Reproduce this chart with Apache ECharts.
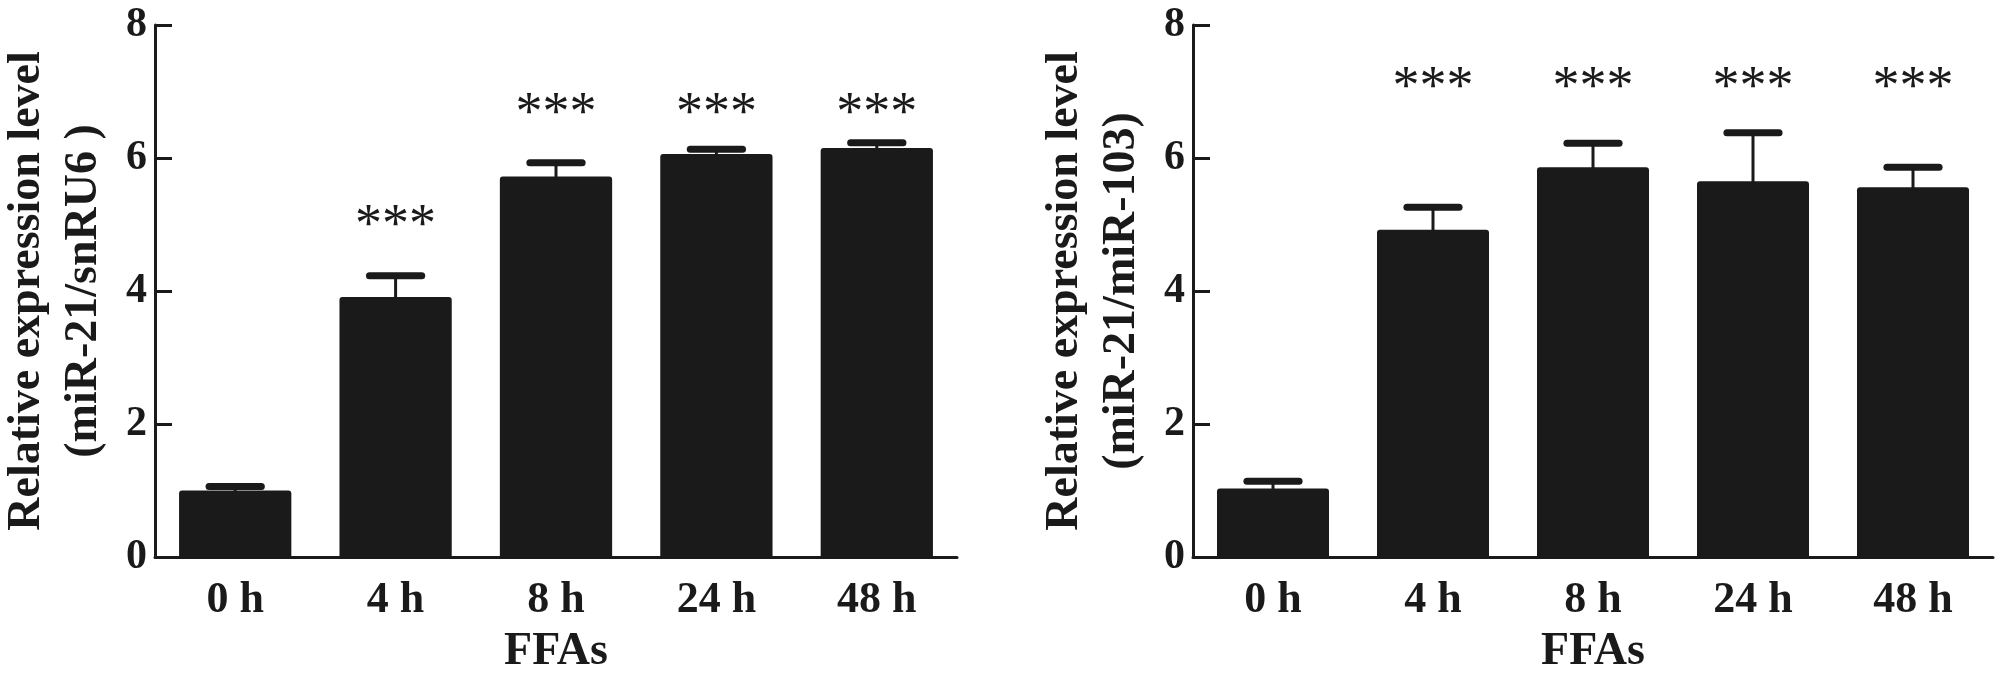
<!DOCTYPE html>
<html>
<head>
<meta charset="utf-8">
<script src="https://cdn.jsdelivr.net/npm/echarts@6/dist/echarts.min.js"></script>
<style>
  html, body { margin: 0; padding: 0; background: #fff; }
  #chart { width: 2008px; height: 678px; }
</style>
</head>
<body>
<div id="chart"></div>
<script>
// categories and values
const hours = ['0 h', '4 h', '8 h', '24 h', '48 h'];
const yTicks = [0, 2, 4, 6, 8];

// left panel: miR-21/snRU6
const snMean = [1.00, 3.91, 5.72, 6.06, 6.15];
const snUpper = [1.06, 4.23, 5.93, 6.13, 6.23];
const snStarY = [null, 5.07, 6.75, 6.75, 6.75];

// right panel: miR-21/miR-103
const mirMean = [1.03, 4.92, 5.86, 5.65, 5.56];
const mirUpper = [1.14, 5.26, 6.22, 6.38, 5.86];
const mirStarY = [null, 7.14, 7.14, 7.14, 7.14];

const stars = ['', '***', '***', '***', '***'];

const ink = '#1a1a1a';
const serif = '"Liberation Serif", "Times New Roman", serif';

// upper error bar: stem from bar top + rounded cap
function errRender(params, api) {
  const i = api.value(0);
  const base = api.coord([i, api.value(1)]);
  const top = api.coord([i, api.value(2)]);
  const hw = api.size([1, 0])[0] * 0.163;
  return {
    type: 'group',
    children: [
      { type: 'line', shape: { x1: top[0], y1: base[1] + 2, x2: top[0], y2: top[1] },
        style: { stroke: ink, lineWidth: 3 } },
      { type: 'line', shape: { x1: top[0] - hw, y1: top[1], x2: top[0] + hw, y2: top[1] },
        style: { stroke: ink, lineWidth: 7, lineCap: 'round' } }
    ]
  };
}

// significance marks, looked up by category index
function starRender(params, api) {
  const i = api.value(0);
  const p = api.coord([i, api.value(1)]);
  return {
    type: 'text',
    style: {
      x: p[0], y: p[1] + 7,
      text: stars[i],
      fill: ink,
      font: 'normal 54px ' + serif,
      align: 'center',
      verticalAlign: 'middle'
    }
  };
}

function xAxisFor(idx) {
  return {
    type: 'category', gridIndex: idx, data: hours,
    name: 'FFAs', nameLocation: 'middle', nameGap: 72,
    nameTextStyle: { fontFamily: serif, fontWeight: 'bold', fontSize: 46, color: ink },
    axisLine: { lineStyle: { color: ink, width: 3 } },
    axisTick: { show: false },
    axisLabel: { fontFamily: serif, fontWeight: 'bold', fontSize: 44, color: ink, margin: 22 },
    splitLine: { show: false }
  };
}

function yAxisFor(idx, title) {
  return {
    type: 'value', gridIndex: idx, min: 0, max: 8, interval: 2,
    name: title, nameLocation: 'middle', nameRotate: 90, nameGap: 42,
    nameTextStyle: { fontFamily: serif, fontWeight: 'bold', fontSize: 46, lineHeight: 57, color: ink },
    axisLine: { show: true, lineStyle: { color: ink, width: 3 } },
    axisTick: { show: true, inside: true, length: 17, lineStyle: { color: ink, width: 3 } },
    axisLabel: {
      fontFamily: serif, fontWeight: 'bold', fontSize: 42, color: ink, margin: 8,
      formatter: v => (yTicks.indexOf(v) >= 0 ? String(v) : '')
    },
    splitLine: { show: false }
  };
}

function panelSeries(idx, mean, upper, starY) {
  return [
    {
      type: 'bar', xAxisIndex: idx, yAxisIndex: idx, data: mean,
      barCategoryGap: '30%',
      itemStyle: { color: ink, borderRadius: [3, 3, 0, 0] },
      silent: true
    },
    {
      type: 'custom', xAxisIndex: idx, yAxisIndex: idx,
      renderItem: errRender,
      data: mean.map((m, i) => [i, m, upper[i]]),
      z: 3, silent: true
    },
    {
      type: 'custom', xAxisIndex: idx, yAxisIndex: idx,
      renderItem: starRender,
      data: starY.map((y, i) => (y == null ? null : [i, y])).filter(d => d),
      z: 4, silent: true
    }
  ];
}

const chart = echarts.init(document.getElementById('chart'));
chart.setOption({
  animation: false,
  backgroundColor: '#fff',
  grid: [
    { left: 155, top: 25, width: 802, height: 532, containLabel: false, outerBoundsMode: 'none' },
    { left: 1193, top: 25, width: 800, height: 532, containLabel: false, outerBoundsMode: 'none' }
  ],
  xAxis: [xAxisFor(0), xAxisFor(1)],
  yAxis: [
    yAxisFor(0, 'Relative expression level\n(miR-21/snRU6 )'),
    yAxisFor(1, 'Relative expression level\n(miR-21/miR-103)')
  ],
  series: panelSeries(0, snMean, snUpper, snStarY)
    .concat(panelSeries(1, mirMean, mirUpper, mirStarY))
});
</script>
</body>
</html>
